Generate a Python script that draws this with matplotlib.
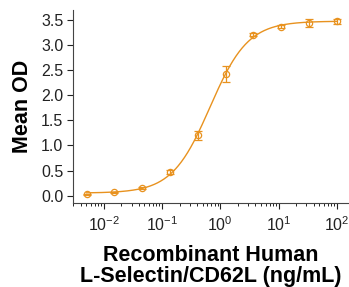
import numpy as np
import matplotlib
matplotlib.use("Agg")
import matplotlib.pyplot as plt

plt.rcParams['font.family'] = ['Liberation Sans', 'DejaVu Sans']

conc = [0.00508, 0.0152, 0.0457, 0.137, 0.412, 1.23, 3.70, 11.1, 33.3, 100.0]
od = [0.027, 0.067, 0.153, 0.48, 1.20, 2.43, 3.21, 3.37, 3.44, 3.48]
err = [0.01, 0.015, 0.02, 0.04, 0.09, 0.16, 0.03, 0.03, 0.08, 0.05]

color = '#E8921F'

# 4PL fit by grid search (bottom/top solved linearly)
x = np.array(conc); y = np.array(od)
best = None
for ec50 in np.logspace(-1, 0.5, 300):
    for h in np.linspace(0.8, 2.0, 121):
        f = 1.0 / (1.0 + (ec50 / x) ** h)
        A = np.vstack([1 - f, f]).T
        coef, *_ = np.linalg.lstsq(A, y, rcond=None)
        r = np.sum((A @ coef - y) ** 2)
        if best is None or r < best[0]:
            best = (r, ec50, h, coef)
_, ec50, h, (bottom, top) = best
xf = np.logspace(np.log10(conc[0]), np.log10(conc[-1]), 400)
yf = bottom + (top - bottom) / (1.0 + (ec50 / xf) ** h)

fig = plt.figure(figsize=(3.49, 2.87), dpi=100)
ax = fig.add_axes([73/349, 1 - 203/287, (348-73)/349, (203-10)/287])
ax.plot(xf, yf, color=color, lw=1.0)
ax.errorbar(conc, od, yerr=err, fmt='o', mfc='none', mec=color, ecolor=color,
            ms=4.5, mew=0.9, elinewidth=0.9, capsize=3, capthick=0.9)
ax.set_xscale('log')
ax.set_xlim(10**-2.527, 10**2.19)
ax.set_ylim(-0.146, 3.7)
ax.set_yticks([0, 0.5, 1.0, 1.5, 2.0, 2.5, 3.0, 3.5])
ax.set_yticklabels(['0.0', '0.5', '1.0', '1.5', '2.0', '2.5', '3.0', '3.5'])
ax.set_xticks([1e-2, 1e-1, 1e0, 1e1, 1e2])
ax.spines['top'].set_visible(False)
ax.spines['right'].set_visible(False)
for s in ['left', 'bottom']:
    ax.spines[s].set_color('#444444')
    ax.spines[s].set_linewidth(0.8)
ax.tick_params(axis='both', labelsize=11.5, colors='#222222', width=0.8, length=4, pad=3)
ax.tick_params(axis='x', which='major', length=4, pad=5)
ax.tick_params(axis='x', which='minor', length=2, width=0.6)
ax.set_ylabel('Mean OD', fontsize=15.5, fontweight='bold', labelpad=6)
ax.set_xlabel('Recombinant Human\nL-Selectin/CD62L (ng/mL)', fontsize=15.5,
              fontweight='bold', labelpad=8, linespacing=1.0)
fig.savefig('out.png', dpi=100)
